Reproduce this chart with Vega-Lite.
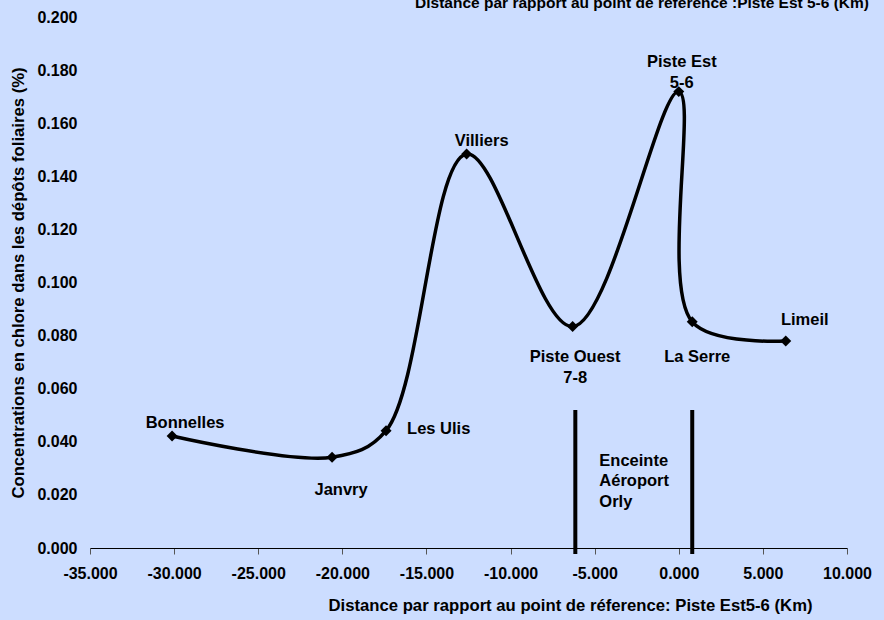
{
  "$schema": "https://vega.github.io/schema/vega-lite/v6.json",
  "width": 757,
  "height": 531,
  "autosize": {"type": "none"},
  "padding": {"left": 90, "top": 17, "right": 37, "bottom": 72},
  "background": "#CCDDFF",
  "title": {
    "text": "Distance par rapport au point de réference :Piste Est 5-6 (Km)",
    "anchor": "end",
    "frame": "group",
    "orient": "top",
    "offset": 0,
    "baseline": "alphabetic",
    "dx": 22,
    "dy": 14,
    "font": "Liberation Sans",
    "fontSize": 15.5,
    "fontWeight": "bold",
    "color": "black"
  },
  "config": {
    "view": {"stroke": null},
    "font": "Liberation Sans",
    "text": {"font": "Liberation Sans", "fontSize": 16.5, "fontWeight": "bold", "lineBreak": "\n", "lineHeight": 21, "color": "black"}
  },
  "datasets": {
    "sites": [
      {"site": "Bonnelles", "label": "Bonnelles", "km": -30.12, "conc": 0.0422},
      {"site": "Janvry", "label": "Janvry", "km": -20.61, "conc": 0.0342},
      {"site": "Les Ulis", "label": "Les Ulis", "km": -17.40, "conc": 0.0442},
      {"site": "Villiers", "label": "Villiers", "km": -12.61, "conc": 0.1484},
      {"site": "Piste Ouest", "label": "Piste Ouest\n7-8", "km": -6.31, "conc": 0.0834},
      {"site": "Piste Est", "label": "Piste Est\n5-6", "km": 0.0, "conc": 0.1719},
      {"site": "La Serre", "label": "La Serre", "km": 0.80, "conc": 0.0852},
      {"site": "Limeil", "label": "Limeil", "km": 6.36, "conc": 0.078}
    ],
    "enceinte": [
      {"edge": "Piste Ouest", "km": -6.15, "zone": "Enceinte\nAéroport\nOrly"},
      {"edge": "La Serre", "km": 0.8, "zone": ""}
    ]
  },
  "data": {"name": "sites"},
  "encoding": {
    "x": {
      "field": "km",
      "type": "quantitative",
      "scale": {"domain": [-35, 10], "nice": false, "zero": false},
      "axis": {
        "values": [-35, -30, -25, -20, -15, -10, -5, 0, 5, 10],
        "labelExpr": "replace(format(datum.value, '.3f'), '\u2212', '-')",
        "grid": false,
        "domainColor": "black",
        "domainWidth": 1,
        "tickColor": "#555555",
        "tickSize": 6,
        "tickWidth": 1,
        "labelFont": "Liberation Sans",
        "labelFontSize": 16,
        "labelFontWeight": "bold",
        "labelColor": "black",
        "labelPadding": 11,
        "labelFlush": false,
        "labelOverlap": false,
        "title": "Distance par rapport au point de réference: Piste Est5-6 (Km)",
        "titleFont": "Liberation Sans",
        "titleFontSize": 16.7,
        "titleFontWeight": "bold",
        "titleColor": "black",
        "titleAlign": "center",
        "titleBaseline": "middle",
        "titleX": 480,
        "titleY": 57
      }
    }
  },
  "layer": [
    {
      "data": {"name": "enceinte"},
      "mark": {"type": "rule", "color": "black", "strokeWidth": 4},
      "encoding": {
        "y": {"datum": 0.052, "type": "quantitative"},
        "y2": {"datum": -0.0023}
      }
    },
    {
      "data": {"name": "enceinte"},
      "transform": [{"filter": "datum.edge === 'Piste Ouest'"}],
      "mark": {"type": "text", "align": "left", "baseline": "middle", "dx": 24, "lineHeight": 20.5},
      "encoding": {
        "y": {"datum": 0.0328, "type": "quantitative"},
        "text": {"field": "zone"}
      }
    },
    {
      "mark": {"type": "line", "interpolate": "catmull-rom", "color": "black", "strokeWidth": 3.5},
      "encoding": {
        "y": {
          "field": "conc",
          "type": "quantitative",
          "scale": {"domain": [0, 0.2], "nice": false},
          "axis": {
            "values": [0, 0.02, 0.04, 0.06, 0.08, 0.1, 0.12, 0.14, 0.16, 0.18, 0.2],
            "format": ".3f",
            "grid": false,
            "domain": false,
            "ticks": false,
            "tickSize": 0,
            "labelFont": "Liberation Sans",
            "labelFontSize": 16,
            "labelFontWeight": "bold",
            "labelColor": "black",
            "labelPadding": 13,
            "labelFlush": false,
            "labelOverlap": false,
            "title": "Concentrations en chlore dans les dépôts foliaires (%)",
            "titleFont": "Liberation Sans",
            "titleFontSize": 16.7,
            "titleFontWeight": "bold",
            "titleColor": "black",
            "titleAngle": -90,
            "titleAlign": "center",
            "titleBaseline": "middle",
            "titleX": -72,
            "titleY": 265.5
          }
        }
      }
    },
    {
      "mark": {"type": "point", "shape": "diamond", "filled": true, "color": "black", "size": 120, "opacity": 1},
      "encoding": {"y": {"field": "conc", "type": "quantitative"}}
    },
    {
      "transform": [{"filter": "datum.site === 'Bonnelles'"}],
      "mark": {"type": "text", "dx": 13, "dy": -13},
      "encoding": {"y": {"field": "conc", "type": "quantitative"}, "text": {"field": "label"}}
    },
    {
      "transform": [{"filter": "datum.site === 'Janvry'"}],
      "mark": {"type": "text", "dx": 9, "dy": 33},
      "encoding": {"y": {"field": "conc", "type": "quantitative"}, "text": {"field": "label"}}
    },
    {
      "transform": [{"filter": "datum.site === 'Les Ulis'"}],
      "mark": {"type": "text", "align": "left", "dx": 21, "dy": -2},
      "encoding": {"y": {"field": "conc", "type": "quantitative"}, "text": {"field": "label"}}
    },
    {
      "transform": [{"filter": "datum.site === 'Villiers'"}],
      "mark": {"type": "text", "dx": 15, "dy": -13},
      "encoding": {"y": {"field": "conc", "type": "quantitative"}, "text": {"field": "label"}}
    },
    {
      "transform": [{"filter": "datum.site === 'Piste Ouest'"}],
      "mark": {"type": "text", "dx": 2.5, "dy": 30.5},
      "encoding": {"y": {"field": "conc", "type": "quantitative"}, "text": {"field": "label"}}
    },
    {
      "transform": [{"filter": "datum.site === 'Piste Est'"}],
      "mark": {"type": "text", "dx": 3, "dy": -29.5},
      "encoding": {"y": {"field": "conc", "type": "quantitative"}, "text": {"field": "label"}}
    },
    {
      "transform": [{"filter": "datum.site === 'La Serre'"}],
      "mark": {"type": "text", "dx": 5, "dy": 35},
      "encoding": {"y": {"field": "conc", "type": "quantitative"}, "text": {"field": "label"}}
    },
    {
      "transform": [{"filter": "datum.site === 'Limeil'"}],
      "mark": {"type": "text", "dx": 19, "dy": -21},
      "encoding": {"y": {"field": "conc", "type": "quantitative"}, "text": {"field": "label"}}
    }
  ]
}
